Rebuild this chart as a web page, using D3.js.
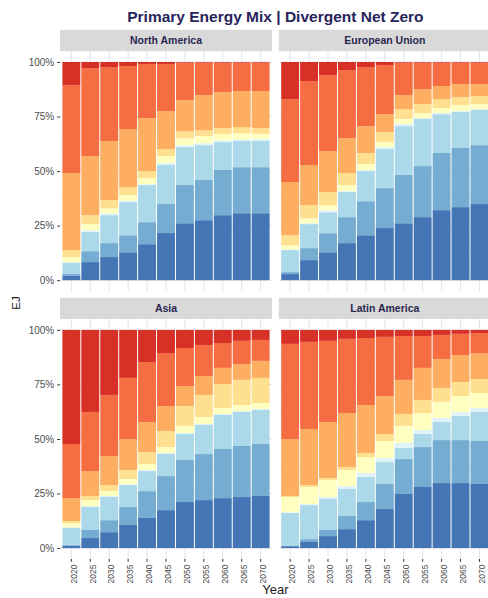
<!DOCTYPE html>
<html>
<head>
<meta charset="utf-8">
<script src="https://cdn.jsdelivr.net/npm/d3@7"></script>
<style>
  body { margin: 0; background: #fff; }
  svg text { font-family: "Liberation Sans", Arial, sans-serif; }
</style>
</head>
<body>
<div id="chart"></div>
<script>
// years on the x axis
const years = ["2020", "2025", "2030", "2035", "2040", "2045", "2050", "2055", "2060", "2065", "2070"];

// fuels, bottom of the stack first
const fuels = ["Solar", "Wind", "Hydro", "Geothermal", "Nuclear", "Bioenergy", "Gas", "Oil", "Coal"];
const fuelColors = ["#4575b4", "#74add1", "#abd9e9", "#e0f3f8", "#ffffbf", "#fee090", "#fdae61", "#f46d43", "#d73027"];

const regions = ["North America", "European Union", "Asia", "Latin America"];

// share of primary energy (%), one row per fuel in the order above
const northAmerica = [
  [2.0, 8.3, 10.6, 12.8, 16.5, 21.6, 26.1, 27.5, 29.8, 30.7, 30.7],
  [0.9, 5.0, 6.4, 7.8, 10.1, 13.3, 17.5, 18.4, 20.7, 21.1, 21.1],
  [5.1, 8.9, 12.8, 15.2, 17.0, 17.9, 17.4, 16.0, 12.8, 12.0, 12.0],
  [0.3, 0.7, 0.9, 0.7, 0.4, 0.9, 0.9, 0.9, 0.8, 0.7, 0.9],
  [2.3, 2.8, 2.2, 2.5, 2.8, 3.2, 3.2, 3.3, 2.9, 2.9, 2.4],
  [3.2, 4.1, 3.8, 3.7, 3.2, 3.2, 3.2, 2.6, 2.7, 2.8, 2.6],
  [35.3, 27.1, 27.1, 26.6, 24.3, 17.4, 14.3, 16.2, 16.5, 16.5, 17.0],
  [40.3, 40.3, 33.9, 28.9, 24.8, 21.6, 17.1, 14.8, 13.5, 13.0, 13.0],
  [10.6, 2.8, 2.3, 1.8, 0.9, 0.9, 0.3, 0.3, 0.3, 0.3, 0.3]
];

const europeanUnion = [
  [2.8, 9.2, 12.8, 17.0, 20.6, 23.9, 26.1, 28.9, 32.1, 33.5, 34.9],
  [0.9, 5.5, 8.7, 11.9, 15.6, 18.3, 22.1, 23.4, 26.2, 27.1, 27.0],
  [10.1, 11.0, 9.6, 11.5, 13.8, 17.9, 22.4, 21.6, 17.8, 16.5, 16.1],
  [0.3, 0.4, 0.9, 0.4, 0.5, 0.9, 1.0, 0.4, 0.5, 0.4, 0.4],
  [2.0, 2.3, 2.3, 2.8, 2.7, 2.3, 2.3, 2.3, 2.3, 2.8, 2.3],
  [4.5, 6.0, 6.0, 5.5, 5.1, 4.6, 4.5, 4.1, 4.1, 3.6, 3.7],
  [24.4, 18.4, 18.8, 16.0, 12.3, 8.2, 6.5, 6.9, 6.0, 6.0, 5.5],
  [38.0, 38.5, 34.8, 31.2, 27.1, 22.5, 14.8, 12.1, 10.7, 9.8, 9.8],
  [17.0, 8.7, 6.0, 3.7, 2.3, 1.4, 0.3, 0.3, 0.3, 0.3, 0.3]
];

const asia = [
  [1.1, 4.6, 7.3, 10.6, 13.8, 17.4, 21.1, 22.0, 22.9, 23.4, 23.9],
  [0.4, 3.7, 5.5, 8.2, 12.3, 15.6, 19.3, 21.1, 22.5, 23.4, 23.8],
  [7.7, 10.5, 10.6, 10.1, 9.2, 10.1, 11.9, 13.3, 15.6, 15.6, 15.6],
  [0.3, 0.5, 0.5, 0.3, 0.5, 0.5, 0.5, 0.5, 0.5, 0.4, 0.5],
  [2.0, 2.7, 2.2, 2.5, 2.7, 2.7, 3.2, 3.2, 2.7, 2.8, 2.7],
  [0.9, 1.9, 2.8, 4.1, 5.5, 7.4, 9.1, 10.1, 11.0, 11.5, 11.5],
  [10.5, 11.4, 13.3, 14.2, 13.8, 11.4, 9.2, 8.7, 7.4, 7.3, 7.8],
  [24.8, 27.1, 28.0, 28.0, 27.5, 24.3, 17.4, 14.2, 11.4, 10.6, 9.6],
  [52.3, 37.6, 29.8, 22.0, 14.7, 10.6, 8.3, 6.9, 6.0, 5.0, 4.6]
];

const latinAmerica = [
  [0.9, 2.8, 5.5, 8.7, 12.8, 17.9, 24.8, 28.0, 29.8, 29.8, 29.4],
  [0.0, 1.3, 2.8, 6.0, 8.3, 11.5, 16.0, 18.3, 19.7, 19.7, 19.7],
  [15.2, 15.6, 14.2, 12.4, 11.5, 10.0, 5.1, 6.0, 8.3, 11.1, 13.3],
  [0.3, 0.5, 0.9, 1.3, 1.8, 1.9, 2.3, 1.8, 1.8, 1.8, 1.8],
  [7.0, 7.8, 7.8, 7.4, 7.3, 7.8, 7.8, 7.8, 7.4, 7.3, 6.9],
  [0.5, 0.9, 0.9, 1.4, 1.9, 3.2, 5.5, 6.0, 6.4, 6.4, 6.4],
  [26.1, 25.7, 25.7, 24.7, 22.0, 17.4, 15.6, 14.7, 13.3, 12.4, 11.9],
  [43.6, 39.9, 37.2, 34.0, 30.7, 27.1, 20.1, 14.6, 11.0, 9.7, 9.2],
  [6.4, 5.5, 5.0, 4.1, 3.7, 3.2, 2.8, 2.8, 2.3, 1.8, 1.4]
];

const regionData = [northAmerica, europeanUnion, asia, latinAmerica];
const yTicks = [0, 0.25, 0.5, 0.75, 1];

// layout
const W = 488, H = 598;
const panelW = 212, gapX = 6.8;
const colX = [60, 60 + panelW + gapX];
const stripH = 21.3;
const rowTop = [29.8, 297.7];       // top of strip
const panelH = 240;

const svg = d3.select("#chart").append("svg")
  .attr("width", W)
  .attr("height", H);

svg.append("text")
  .attr("x", 60 + (2 * panelW + gapX) / 2)
  .attr("y", 22)
  .attr("text-anchor", "middle")
  .attr("font-size", "15.5px")
  .attr("font-weight", "bold")
  .attr("fill", "#27245a")
  .text("Primary Energy Mix | Divergent Net Zero");

const x = d3.scaleBand()
  .domain(years)
  .range([0, panelW])
  .paddingInner(0)
  .paddingOuter(0.1);

const color = d3.scaleOrdinal().domain(fuels).range(fuelColors);

const stack = d3.stack()
  .keys(fuels)
  .offset(d3.stackOffsetExpand);

regions.forEach((region, i) => {
  const col = i % 2, row = Math.floor(i / 2);
  const px = colX[col];
  const stripTop = rowTop[row];
  const pTop = stripTop + stripH;

  // 5% expansion on the y scale like ggplot
  const y = d3.scaleLinear()
    .domain([-0.05, 1.05])
    .range([pTop + panelH, pTop]);

  const g = svg.append("g").attr("transform", `translate(${px},0)`);

  // strip
  g.append("rect")
    .attr("x", 0).attr("y", stripTop)
    .attr("width", panelW).attr("height", stripH)
    .attr("fill", "#d9d9d9");
  g.append("text")
    .attr("x", panelW / 2).attr("y", stripTop + stripH / 2)
    .attr("dy", "0.36em")
    .attr("text-anchor", "middle")
    .attr("font-size", "10.5px")
    .attr("font-weight", "bold")
    .attr("fill", "#2a2850")
    .text(region);

  // grid
  const minor = [0.125, 0.375, 0.625, 0.875];
  g.selectAll(".minor").data(minor).join("line")
    .attr("x1", 0).attr("x2", panelW)
    .attr("y1", d => y(d)).attr("y2", d => y(d))
    .attr("stroke", "#f2f2f2").attr("stroke-width", 0.6);
  g.selectAll(".major").data(yTicks).join("line")
    .attr("x1", 0).attr("x2", panelW)
    .attr("y1", d => y(d)).attr("y2", d => y(d))
    .attr("stroke", "#e4e4e4").attr("stroke-width", 1);
  g.selectAll(".vgrid").data(years).join("line")
    .attr("x1", d => x(d) + x.bandwidth() / 2).attr("x2", d => x(d) + x.bandwidth() / 2)
    .attr("y1", pTop).attr("y2", pTop + panelH)
    .attr("stroke", "#e4e4e4").attr("stroke-width", 1);

  // table for the stack
  const rows = years.map((yr, j) => {
    const o = { year: yr };
    fuels.forEach((f, k) => { o[f] = regionData[i][k][j]; });
    return o;
  });
  const series = stack(rows);

  g.selectAll(".layer").data(series).join("g")
    .attr("fill", d => color(d.key))
    .selectAll("rect")
    .data(d => d)
    .join("rect")
      .attr("x", d => x(d.data.year) + 0.5)
      .attr("width", x.bandwidth() - 1)
      .attr("y", d => y(d[1]))
      .attr("height", d => Math.max(0, y(d[0]) - y(d[1])));

  // y axis on the left column only
  if (col === 0) {
    const ya = g.append("g").call(d3.axisLeft(y).tickValues(yTicks)
      .tickFormat(d3.format(".0%")).tickSize(2.8).tickPadding(3));
    ya.select(".domain").remove();
    ya.selectAll("line").attr("stroke", "#333");
    ya.selectAll("text").attr("font-size", "10px").attr("fill", "#4d4d4d")
      .attr("font-family", "Liberation Sans, Arial, sans-serif");
  }

  // x axis on the bottom row only
  if (row === 1) {
    const xa = g.append("g")
      .attr("transform", `translate(0,${pTop + panelH})`)
      .call(d3.axisBottom(x).tickSize(2.8).tickPadding(3));
    xa.select(".domain").remove();
    xa.selectAll("line").attr("stroke", "#333");
    xa.selectAll("text")
      .attr("font-size", "8.5px").attr("fill", "#4d4d4d")
      .attr("font-family", "Liberation Sans, Arial, sans-serif")
      .attr("text-anchor", "end")
      .attr("transform", "rotate(-90)")
      .attr("x", -5.5).attr("y", 0).attr("dy", "0.62em");
  }
});

// axis titles
svg.append("text")
  .attr("transform", "translate(20,303) rotate(-90)")
  .attr("text-anchor", "middle")
  .attr("font-size", "11.5px")
  .attr("fill", "#1a1a1a")
  .text("EJ");

svg.append("text")
  .attr("x", 60 + (2 * panelW + gapX) / 2)
  .attr("y", 594)
  .attr("text-anchor", "middle")
  .attr("font-size", "13px")
  .attr("fill", "#1a1a1a")
  .text("Year");
</script>
</body>
</html>
